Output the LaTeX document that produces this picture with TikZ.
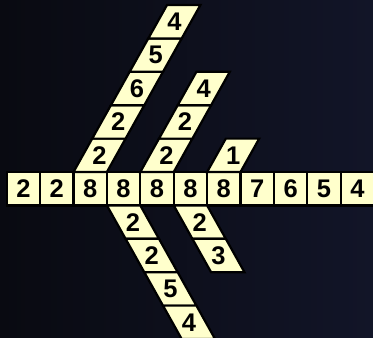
\documentclass[tikz,border=0pt]{standalone}
\usepackage{fontspec}
\setmainfont{Liberation Sans}
\usepackage{tikz}
\usetikzlibrary{positioning,calc}
\definecolor{cellYellow}{RGB}{255,255,204}
\definecolor{bgLeft}{RGB}{9,10,17}
\definecolor{bgRight}{RGB}{18,21,40}
\newcommand{\colslant}{0.56}
\tikzset{
  cell/.style={fill=cellYellow,draw=black,line width=2.2pt,line join=miter},
  digit/.style={font=\fontsize{25.5}{25.5}\selectfont\bfseries,inner sep=0pt}
}

\begin{document}
\begin{tikzpicture}[x=33.4pt,y=33.4pt]
  \useasboundingbox (-0.2,-4.94) rectangle (10.967,5.15);
  \clip (-0.2,-4.94) rectangle (10.967,5.15);
  % background
  \shade[left color=bgLeft,right color=bgRight] (-0.2,-4.94) rectangle (10.967,5.15);
  % main row
  \foreach \d [count=\i from 0] in {2,2,8,8,8,8,8,7,6,5,4} {
    \filldraw[cell] (\i,0) rectangle ++(1,-1);
    \node[digit] (r\i) at (\i+0.5,-0.5) {\d};
  }
  % columns going up
  \foreach \k/\list/\name in {2/{2,2,6,5,4}/ua, 4/{2,2,4}/ub, 6/{1}/uc} {
    \foreach \d [count=\j from 0] in \list {
      \filldraw[cell] (\k+\j*\colslant,\j) -- ++(1,0) -- ++(\colslant,1) -- ++(-1,0) -- cycle;
      \node[digit] (\name\j) at (\k+0.5+\j*\colslant+0.5*\colslant,\j+0.5) {\d};
    }
  }
  % columns going down
  \foreach \k/\list/\name in {3/{2,2,5,4}/da, 5/{2,3}/db} {
    \foreach \d [count=\j from 0] in \list {
      \filldraw[cell] (\k+\j*\colslant,-1-\j) -- ++(1,0) -- ++(\colslant,-1) -- ++(-1,0) -- cycle;
      \node[digit] (\name\j) at (\k+0.5+\j*\colslant+0.5*\colslant,-1.5-\j) {\d};
    }
  }
\end{tikzpicture}
\end{document}
